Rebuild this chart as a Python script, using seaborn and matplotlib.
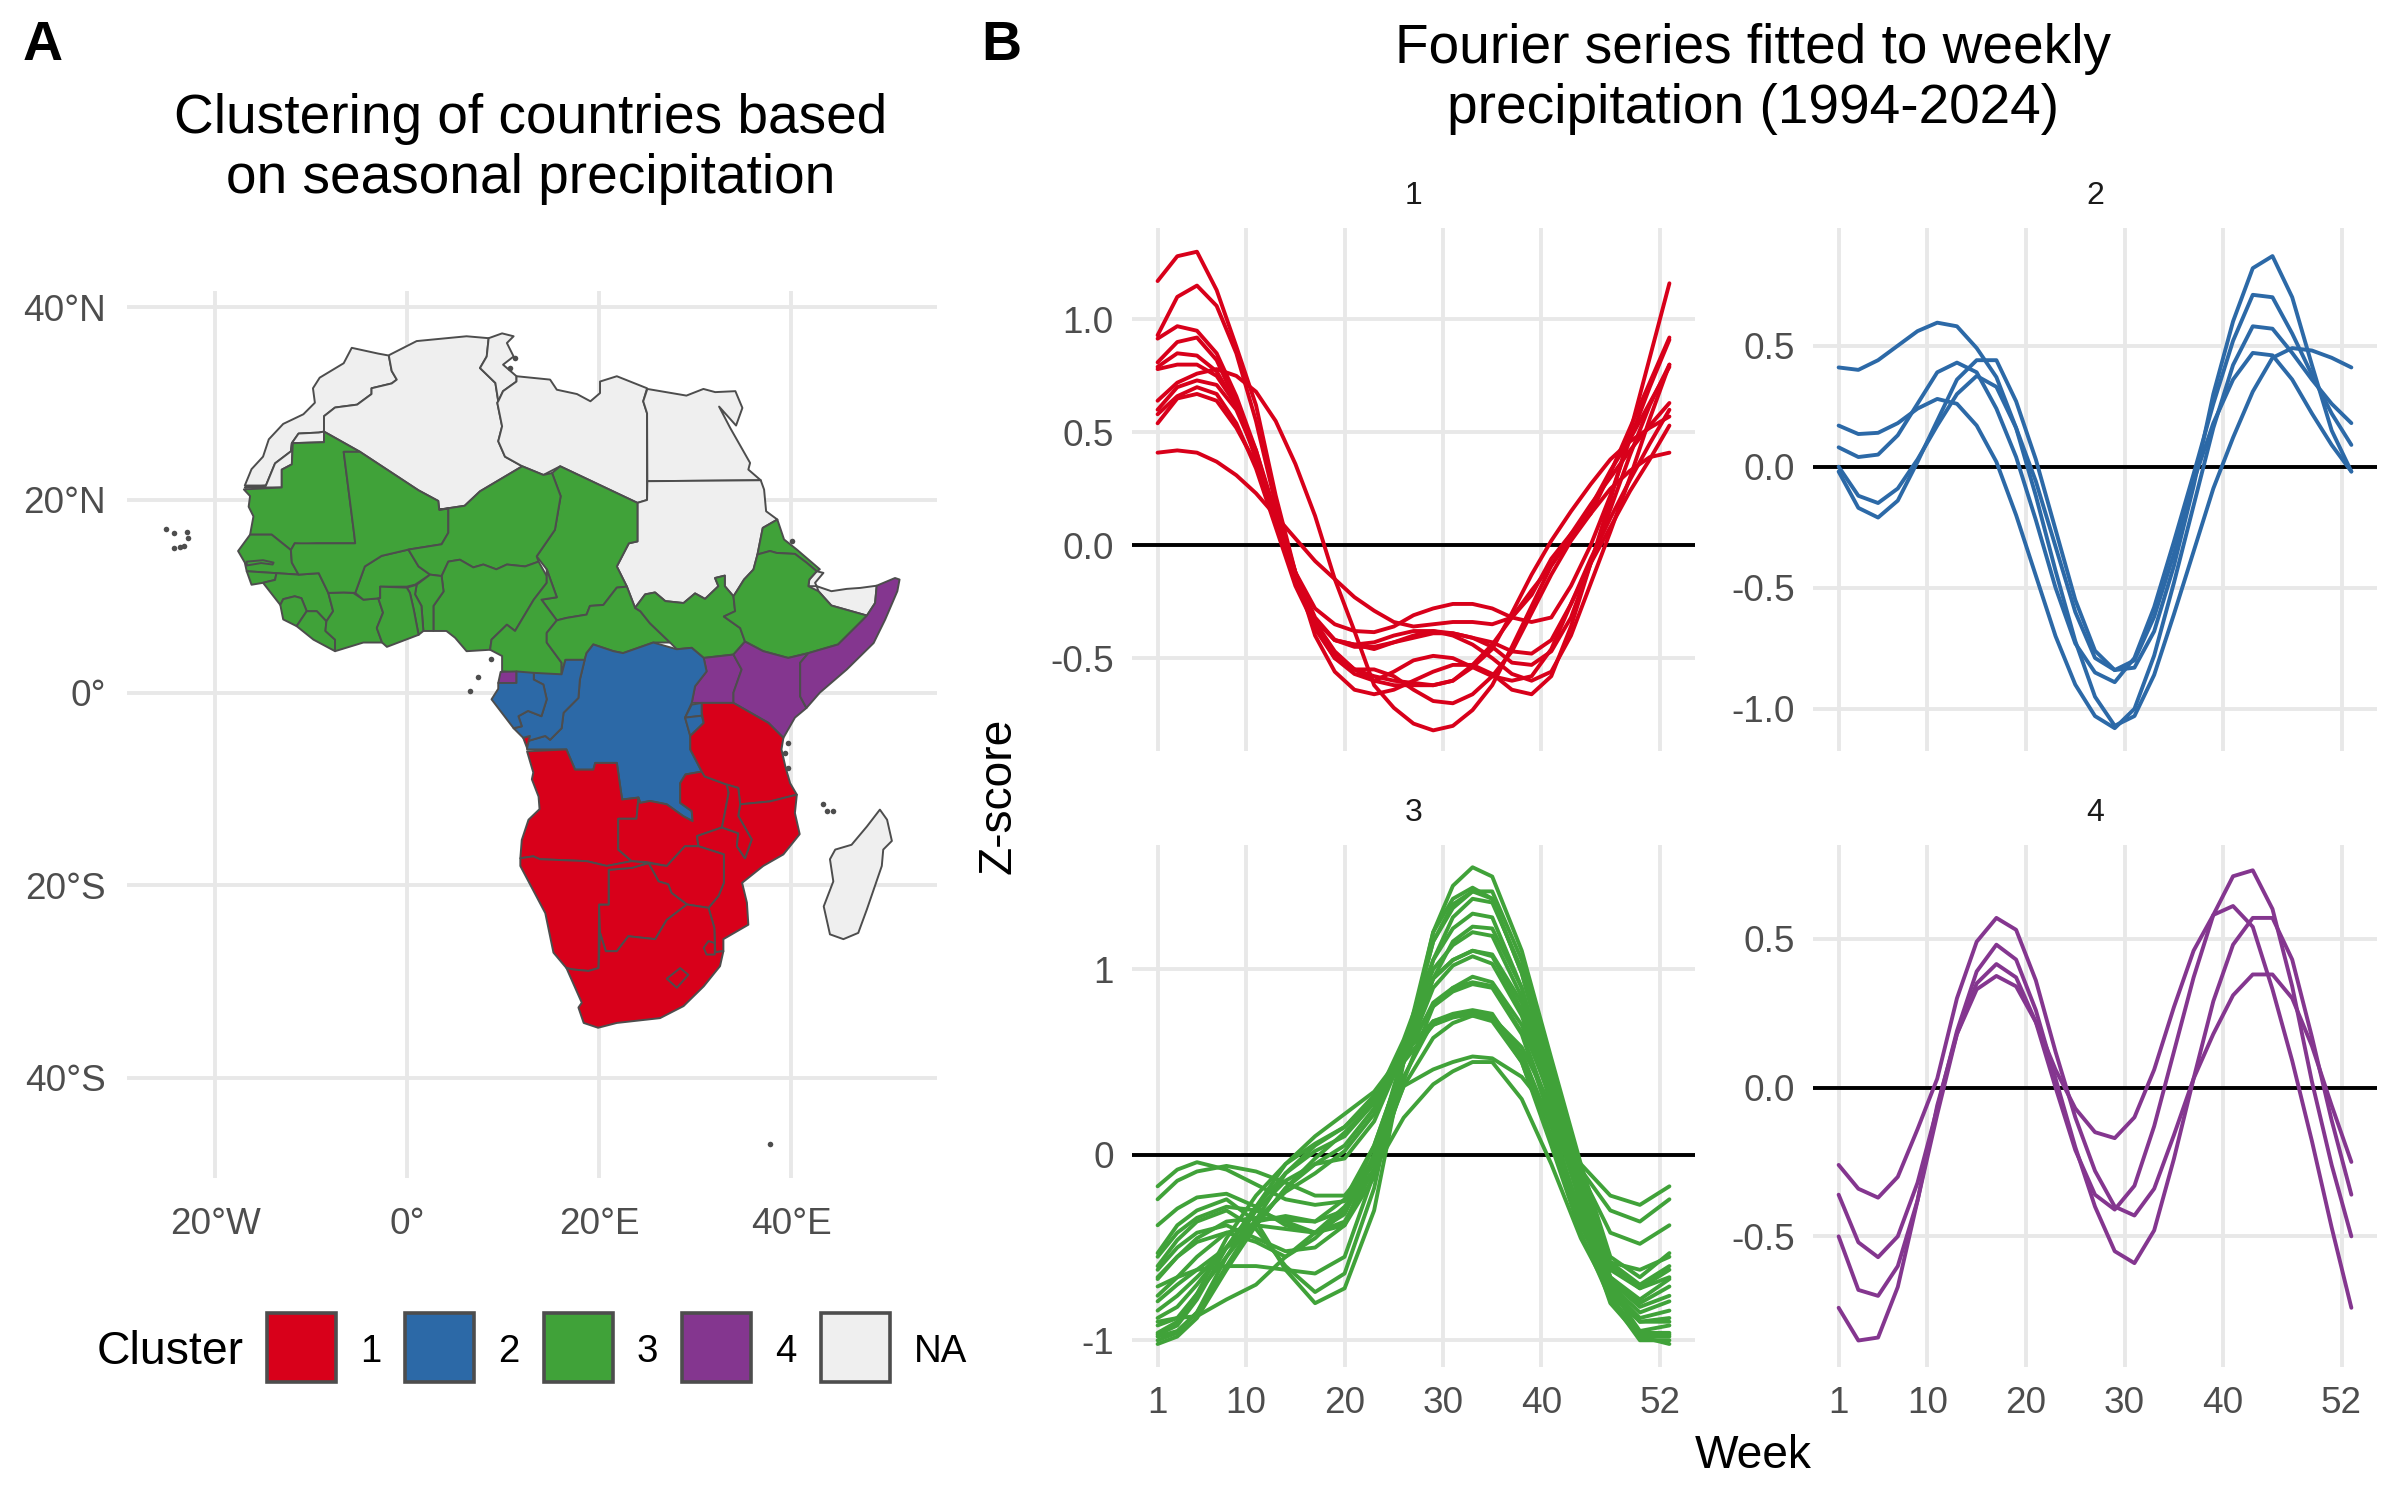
import matplotlib
matplotlib.use("Agg")
import matplotlib.pyplot as plt
from matplotlib.patches import Rectangle
import numpy as np
import pandas as pd
import seaborn as sns

RED, BLUE, GREEN, PURPLE, NA_COL = '#D8001A', '#2C69A7', '#40A239', '#84368F', '#EFEFEF'
BORDER, GRID, TICK = '#4D4D4D', '#E8E8E8', '#4D4D4D'

# ---------------- map outlines: (lon, lat) ----------------
morocco = [(-5.76,35.8),(-3,35.2),(-1.9,35),(-1.6,33.4),(-1.07,32.5),(-1.6,32.1),(-3.7,31.6),(-3.7,31),(-5.2,29.9),(-7.5,29.6),(-8.65,28.7),(-8.65,27.1),(-9.2,27),(-11.3,26.9),(-12,25.9),(-12.1,25.05),(-13.75,23.8),(-14.7,21.5),(-16.9,21.5),(-16.2,23.2),(-15,24.5),(-14.4,26.3),(-12.9,27.9),(-10.8,28.9),(-9.6,30.1),(-9.8,31.6),(-9.1,32.7),(-6.6,34.2)]
w_sahara = [(-14.7,21.5),(-13.75,23.8),(-12.1,25.05),(-12,25.9),(-11.3,26.9),(-9.2,27),(-8.65,27.1),(-8.65,26),(-11.9,25.9),(-12,23.7),(-13.05,23.15),(-13.05,21.3),(-16.9,21.3)]
algeria = [(-8.65,28.7),(-8.65,27.1),(-4.9,25),(1.2,21),(3.25,19.9),(3.35,19),(6,19.4),(7.6,20.9),(12,23.5),(10.2,24.5),(9.5,26.1),(9.9,27.65),(9.4,30.1),(9.5,30.25),(9.2,32.15),(7.6,33.7),(8.3,34.9),(8.5,36.8),(6.2,37),(1,36.5),(-1.76,35.1),(-1.9,35),(-1.6,33.4),(-1.07,32.5),(-1.6,32.1),(-3.7,31.6),(-3.7,31),(-5.2,29.9),(-7.5,29.6)]
tunisia = [(8.5,36.8),(9.9,37.3),(11.1,37),(10.4,36.3),(11.1,34.9),(10,34.05),(11.4,32.85),(11.4,32.3),(10,31.3),(9.5,30.25),(9.2,32.15),(7.6,33.7),(8.3,34.9)]
libya = [(11.4,32.85),(14.9,32.5),(15.6,31.45),(17.7,31),(19.1,30.25),(20.1,31.1),(20.1,32.3),(21.85,32.85),(25,31.6),(24.6,30.25),(25,29),(25,20),(24,19.7),(15.95,23.5),(14.2,22.6),(12,23.5),(10.2,24.5),(9.5,26.1),(9.9,27.65),(9.4,30.1),(9.5,30.25),(10,31.3),(11.4,32.3)]
egypt = [(25.03,31.53),(29.1,30.84),(30.87,31.53),(32.1,31.2),(34.2,31.3),(34.93,29.56),(34.27,27.73),(32.5,29.7),(33.65,27.5),(35.73,23.85),(35.55,23.16),(36.84,22.05),(25.03,21.95),(25,29),(24.6,30.25)]
sudan = [(25.03,21.95),(36.84,22.05),(37.19,21.08),(37.4,18.83),(38.57,17.97),(37.05,17.1),(36.5,14.34),(36.08,12.78),(35.1,11.74),(34.34,10.53),(34,10),(33.1,11.05),(33.1,12.15),(32.08,11.9),(32.43,11.05),(31.04,9.73),(30,10.3),(28.8,9.3),(26.9,9.5),(25.83,10.4),(24.8,10.2),(23.75,8.8),(22.9,11),(21.85,13.1),(23.1,15.5),(24,15.7),(24,19.7),(25,20)]
mauritania = [(-17,21.1),(-13.05,21.3),(-13.05,23.15),(-12,23.7),(-11.9,25.9),(-8.65,26),(-8.65,27.1),(-4.9,25),(-6.6,25),(-5.5,16.4),(-5.4,15.5),(-9.4,15.5),(-10.8,15.4),(-11.7,15.5),(-12.1,14.8),(-14.1,16.4),(-16.35,16.4),(-16,18.3),(-16.5,19.3),(-16.35,20.4)]
senegal = [(-16.35,16.4),(-14.1,16.4),(-12.1,14.8),(-12,13.5),(-11.3,12.25),(-13.6,12.4),(-16.7,12.6),(-16.9,13.5),(-17.6,14.7)]
gambia = [(-16.7,13.6),(-15,13.75),(-13.9,13.5),(-14,13.3),(-15.2,13.45),(-16.7,13.2)]
guinea_bissau = [(-16.7,12.6),(-13.6,12.4),(-13.75,11.7),(-15,11.4),(-16.2,11.2)]
guinea = [(-13.6,12.4),(-11.3,12.25),(-9.2,12.4),(-8.2,10.35),(-7.7,8.45),(-8.4,7.4),(-9.4,8.45),(-10.45,8.45),(-11,9.8),(-11.7,10),(-12.9,9.7),(-13.2,9.1),(-15,11.4),(-13.75,11.7)]
sierra_leone = [(-13.2,9.1),(-12.9,9.7),(-11.7,10),(-11,9.8),(-10.45,8.45),(-11.5,6.9),(-12.9,7.6)]
liberia = [(-10.45,8.45),(-9.4,8.45),(-8.4,7.4),(-8.5,6.4),(-7.5,5.5),(-7.5,4.3),(-9.75,5.5),(-11.5,6.9)]
ivory_coast = [(-8.2,10.35),(-6.6,10.4),(-5.6,10.35),(-4.55,9.65),(-3,9.8),(-2.5,8.3),(-3.15,6.7),(-2.6,5.2),(-4.55,5.2),(-7.5,4.3),(-7.5,5.5),(-8.5,6.4),(-8.4,7.4),(-7.7,8.45)]
burkina = [(-5.4,10.35),(-4.4,13.1),(-2.65,14.2),(0.14,14.85),(1.2,13.1),(2.4,12.25),(0.83,11.2),(-0.03,11),(-2.8,11),(-2.8,9.8),(-4.55,9.65)]
mali = [(-6.6,25),(-4.9,25),(1.2,21),(3.25,19.9),(3.35,19),(4.3,19.1),(4.3,16.6),(3.6,15.4),(0.14,14.85),(-2.65,14.2),(-4.4,13.1),(-5.4,10.35),(-6.6,10.4),(-8.2,10.35),(-9.2,12.4),(-11.3,12.25),(-12,13.5),(-12.1,14.8),(-11.7,15.5),(-9.4,15.5),(-5.4,15.5),(-5.5,16.4)]
chad = [(24,19.7),(24,15.7),(23.1,15.5),(21.85,13.1),(22.9,11),(21.85,10.9),(20.45,9.1),(19.05,9),(18.7,8.1),(16.6,7.75),(15.6,7.5),(14,9.65),(15.6,9.9),(14.55,12.8),(13.5,14.15),(15.4,16.9),(16,20.4),(15.1,22.8),(15.95,23.5)]
niger = [(3.35,19),(6,19.4),(7.6,20.9),(12,23.5),(14.2,22.6),(15.1,22.8),(16,20.4),(15.4,16.9),(13.5,14.15),(13.7,13.6),(12.3,13.1),(10.4,13.3),(9.3,12.8),(7.95,13.3),(6.9,13),(5.5,13.8),(4.3,13.6),(3.6,12.1),(2.4,12.25),(1.2,13.1),(0.14,14.85),(3.6,15.4),(4.3,16.6),(4.3,19.1)]
nigeria = [(3.6,12.1),(4.3,13.6),(5.5,13.8),(6.9,13),(7.95,13.3),(9.3,12.8),(10.4,13.3),(12.3,13.1),(13.7,13.6),(14.55,12.1),(14.55,11.4),(13.2,9.65),(11.25,6.4),(10.4,7.05),(8.8,5.5),(8.65,4.45),(6.2,4.3),(5,5.7),(4.1,6.4),(2.75,6.4),(2.75,9),(3.8,10.5)]
benin = [(2.4,12.25),(3.6,12.1),(3.8,10.5),(2.75,9),(2.75,6.4),(1.7,6.4),(1.5,9),(0.83,10.2),(1,11.2)]
togo = [(-0.03,10.9),(1,11.2),(0.83,10.2),(1.5,9),(1.7,6.4),(1.2,6),(0.7,8.6),(0.3,10.35)]
ghana = [(-2.8,11),(-0.03,10.9),(0.3,10.35),(0.7,8.6),(1.2,6),(-2.1,4.75),(-2.6,5.2),(-3.15,6.7),(-2.5,8.3),(-3,9.8),(-2.8,9.8)]
cameroon = [(14.55,12.8),(14.55,11.4),(13.2,9.65),(11.25,6.4),(10.4,7.05),(8.8,5.5),(8.65,4.45),(9.9,3.8),(9.9,2.2),(16.1,1.7),(16.1,3.1),(14.55,5.2),(14.55,6.2),(15.6,7.5),(14,9.65),(15.6,9.9)]
car = [(23.75,8.8),(24.3,8.45),(25.3,7.2),(27.4,5.2),(25.65,5.2),(22.5,4.1),(21.5,4.3),(19.4,5),(18.7,4.1),(18.5,3.4),(16.5,3.4),(16.1,1.9),(16.1,3.1),(14.55,5.2),(14.55,6.2),(15.6,7.5),(16.6,7.75),(18.7,8.1),(19.05,9),(20.45,9.1),(21.85,10.9),(22.9,11)]
south_sudan = [(23.75,8.8),(24.8,10.2),(25.83,10.4),(26.9,9.5),(28.8,9.3),(30,10.3),(31.04,9.73),(32.43,11.05),(32.08,11.9),(33.1,12.15),(33.1,11.05),(34,10),(34.17,8.45),(33,7.9),(34.7,6.7),(35.2,5.3),(34,3.95),(30.9,3.6),(29.65,4.65),(28.1,4.5),(27.4,5.2),(25.3,7.2),(24.3,8.45)]
eritrea = [(37.05,17.1),(38.57,17.97),(39.27,15.9),(40.6,14.85),(43,12.8),(42.67,12.6),(41.6,13.5),(40.4,14.4),(38.5,14.5),(37.8,14.7),(36.5,14.34)]
djibouti = [(42.67,12.6),(43.37,12.43),(42.5,11.4),(42.67,11.05),(41.8,11.05),(41.9,11.74)]
somaliland = [(42.67,11.05),(44.2,10.53),(45.8,10.77),(47.2,10.87),(48.92,11.1),(48.75,9.3),(47.9,8),(44.2,9.04),(42.85,10.53)]
somalia = [(48.92,11.1),(50.83,11.9),(51.3,11.74),(51.07,10.53),(49.8,7.58),(48.6,5.15),(45.8,2.4),(43,0),(41.6,-1.6),(40.95,-0.4),(40.95,3.1),(41.8,4.1),(44.9,5),(47.5,7.58),(47.9,8),(48.75,9.3)]
ethiopia = [(36.5,14.34),(37.8,14.7),(38.5,14.5),(40.4,14.4),(41.6,13.5),(42.67,12.6),(41.9,11.74),(41.8,11.05),(42.85,10.53),(44.2,9.04),(47.9,8),(47.5,7.58),(44.9,5),(41.8,4.1),(39.7,3.6),(37.1,4.3),(35.2,5.3),(34.7,6.7),(33,7.9),(34.17,8.45),(34,10),(34.34,10.53),(35.1,11.74),(36.08,12.78)]
drc = [(19.4,5),(21.5,4.3),(22.5,4.1),(25.65,5.2),(28.1,4.5),(29.65,4.65),(30.9,3.6),(31.2,2.2),(30,0.66),(29.65,-1.07),(28.96,-2.6),(29.5,-4.5),(29.5,-5.9),(30.7,-8.2),(29,-8.5),(28.45,-9.4),(28.45,-11.45),(29.65,-12.3),(29.75,-13.35),(28.8,-12.85),(27.05,-11.6),(25.3,-11.25),(24.3,-11.45),(24.1,-10.9),(22.4,-11.1),(21.85,-7.3),(19.6,-7.3),(19.4,-8),(17.5,-8),(16.6,-5.9),(12.5,-5.9),(12.5,-5.05),(14.4,-4.5),(14.9,-4.9),(16.1,-3.7),(16.3,-2.1),(17.85,-0.55),(18,1.35),(18.5,3.4),(18.7,4.1)]
congo = [(16.5,3.4),(18.5,3.4),(18,1.35),(17.85,-0.55),(16.3,-2.1),(16.1,-3.7),(14.9,-4.9),(14.4,-4.5),(12.5,-5.05),(12.1,-4.7),(11.1,-3.7),(11.95,-3.5),(11.6,-2.45),(12.6,-1.9),(14,-2.45),(14.55,-0.7),(14.2,0.83),(13.2,1.35),(13.2,2.05),(16.1,1.9)]
gabon = [(9.5,1),(11.4,1),(11.4,2.2),(13.2,2.05),(13.2,1.35),(14.2,0.83),(14.55,-0.7),(14,-2.45),(12.6,-1.9),(11.6,-2.45),(11.95,-3.5),(11.1,-3.7),(8.8,-0.7),(9.5,0.4)]
eq_guinea = [(9.75,2.15),(9.5,1),(11.4,1),(11.4,2.2)]
cabinda = [(12.1,-4.7),(12.8,-4.5),(12.5,-5.75)]
angola = [(12.5,-6.1),(16.6,-5.9),(17.5,-8),(19.4,-8),(19.6,-7.3),(21.85,-7.3),(22.4,-11.1),(24.1,-10.9),(23.9,-13.1),(22,-13.1),(22,-16.3),(23.4,-17.5),(20.8,-18),(18.7,-17.5),(13.85,-17.3),(13.15,-17),(11.8,-17.2),(11.95,-15.3),(12.65,-13.2),(13.8,-12.1),(13.7,-10.8),(13,-9),(13.15,-8.3)]
zambia = [(24.1,-10.9),(24.3,-11.45),(25.3,-11.25),(27.05,-11.6),(28.8,-12.85),(29.75,-13.35),(29.65,-12.3),(28.45,-11.45),(28.45,-9.4),(29,-8.5),(30.7,-8.2),(31,-8.7),(33.3,-9.55),(33.5,-10.4),(33.1,-12.5),(32.8,-14),(30.2,-14.9),(30.35,-15.95),(28.95,-15.95),(27.05,-18),(25,-17.6),(23.4,-17.5),(22,-16.3),(22,-13.1),(23.9,-13.1)]
tanzania = [(30.7,-1.07),(34,-1.07),(37.65,-3.15),(39.2,-4.7),(39,-5.9),(39.4,-7.65),(39.9,-9.4),(40.6,-10.6),(37.8,-11.3),(34.7,-11.6),(34.5,-9.9),(33.3,-9.55),(31,-8.7),(30.7,-8.2),(29.5,-5.9),(29.5,-4.5),(30.9,-3.15),(30.7,-2.1)]
rwanda = [(29.65,-1.25),(30.7,-1.07),(30.7,-2.4),(28.96,-2.6)]
burundi = [(28.96,-2.6),(30.7,-2.4),(30.9,-3.15),(29.5,-4.5)]
uganda = [(30.9,3.6),(34,3.95),(34.85,2.4),(34,0),(34,-1.07),(29.65,-1.07),(30,0.66),(31.2,2.2)]
kenya = [(34,3.95),(35.2,5.3),(37.1,4.3),(39.7,3.6),(41.8,4.1),(40.95,3.1),(40.95,-0.4),(41.6,-1.6),(40.4,-2.6),(39.2,-4.7),(37.65,-3.15),(34,-1.07),(34,0),(34.85,2.4)]
mozambique = [(40.6,-10.6),(40.4,-12.5),(40.9,-14.7),(39.2,-16.8),(37.1,-18),(34.9,-19.75),(35.4,-21.8),(35.55,-24.1),(32.95,-25.6),(32.95,-26.85),(32.1,-26.95),(32,-24.4),(31.4,-22.35),(32.45,-21.1),(33,-19.75),(33,-16.8),(30.35,-15.95),(30.2,-14.9),(32.8,-14),(34.5,-14.6),(34.35,-15.95),(35.2,-17.2),(35.9,-15.25),(34.5,-12.8),(34.7,-11.6),(37.8,-11.3)]
malawi = [(33.3,-9.55),(34.5,-9.9),(34.7,-11.6),(34.5,-12.8),(35.9,-15.25),(35.2,-17.2),(34.35,-15.95),(34.5,-14.6),(32.8,-14),(33.1,-12.5),(33.5,-10.4)]
zimbabwe = [(30.35,-15.95),(33,-16.8),(33,-19.75),(32.45,-21.1),(31.4,-22.35),(29.15,-22),(27.55,-20.8),(27.2,-19.9),(26.2,-19.6),(25.15,-17.7),(27.05,-18),(28.95,-15.95)]
botswana = [(21,-18.4),(23.4,-18.2),(25.15,-17.7),(26.2,-19.6),(27.2,-19.9),(27.55,-20.8),(29.15,-22),(27.05,-23.6),(25.85,-25.6),(23.05,-25.3),(21.85,-26.85),(20.7,-26.85),(20.1,-24.95),(20,-22),(21,-22)]
namibia = [(11.8,-17.2),(13.15,-17),(13.85,-17.3),(18.7,-17.5),(20.8,-18),(23.4,-17.5),(25.15,-17.7),(23.4,-18.2),(21,-18.4),(21,-22),(20,-22),(19.95,-28.6),(18.9,-28.9),(17.3,-28.75),(16.6,-28.6),(15.25,-27),(14.4,-22.9),(11.8,-18)]
south_africa = [(16.6,-28.6),(17.3,-28.75),(18.9,-28.9),(19.95,-28.6),(20.1,-24.95),(20.7,-26.85),(21.85,-26.85),(23.05,-25.3),(25.85,-25.6),(27.05,-23.6),(29.15,-22),(31.4,-22.35),(32,-24.4),(32.1,-26.95),(32.95,-26.85),(32.6,-28.4),(30.9,-30.5),(28.8,-32.55),(26.35,-33.8),(21.85,-34.3),(19.9,-34.8),(18.4,-34.3),(17.85,-32.7),(18.2,-32.2)]
eswatini = [(30.9,-26.5),(31.4,-25.8),(32.05,-26),(32.05,-27.2),(31.2,-27.2)]
lesotho = [(27.05,-29.7),(28.45,-28.6),(29.3,-29.3),(28.1,-30.65)]
madagascar = [(49.25,-12.15),(50,-13.2),(50.5,-15.4),(49.6,-16.3),(49.45,-18),(47.9,-22.5),(47,-24.95),(45.45,-25.6),(44.05,-25.1),(43.4,-22.2),(44.4,-19.6),(44.05,-17.3),(44.6,-16.3),(46.3,-15.8),(47.9,-13.9)]

cluster_1_countries = [angola, cabinda, zambia, tanzania, mozambique, malawi, zimbabwe, botswana, namibia, south_africa, eswatini, lesotho]
cluster_2_countries = [drc, congo, gabon, rwanda, burundi]
cluster_3_countries = [mauritania, senegal, gambia, guinea_bissau, guinea, sierra_leone, liberia, ivory_coast, burkina, mali, chad, niger, nigeria, benin, togo, ghana, cameroon, car, south_sudan, eritrea, ethiopia]
cluster_4_countries = [eq_guinea, uganda, kenya, somalia]
cluster_na_countries = [morocco, w_sahara, algeria, tunisia, libya, egypt, sudan, djibouti, somaliland, madagascar]

island_lon = [-25.1,-24.3,-22.9,-22.8,-24.3,-23.6,-23.2,8.7,7.4,6.6,39.7,39.4,39.7,43.3,43.7,44.4,37.8,10.7,11.25,40.07]
island_lat = [17.0,16.6,16.7,16.1,15.0,15.1,15.2,3.5,1.6,0.2,-5.2,-6.3,-7.8,-11.6,-12.3,-12.25,-46.9,33.7,34.75,15.7]

map_lon_ticks = [-20, 0, 20, 40]
map_lon_labels = ['20°W', '0°', '20°E', '40°E']
map_lat_ticks = [40, 20, 0, -20, -40]
map_lat_labels = ['40°N', '20°N', '0°', '20°S', '40°S']

# ---------------- curves: z-score values read at the listed weeks ----------------
weeks = [1,3,5,7,9,11,13,15,17,19,21,23,25,27,29,31,33,35,37,39,41,43,45,47,49,51,53]
weeks_c3 = [1,3,5,8,11,14,17,20,23,26,29,31,33,35,38,41,44,47,50,53]

cluster1 = [
 [1.17,1.28,1.30,1.13,.88,.62,.22,-.12,-.40,-.56,-.64,-.66,-.64,-.60,-.56,-.53,-.53,-.57,-.64,-.66,-.58,-.36,-.08,.20,.50,.83,1.16],
 [.93,1.10,1.15,1.06,.85,.55,.18,-.12,-.37,-.50,-.55,-.55,-.58,-.64,-.69,-.70,-.66,-.58,-.47,-.30,-.13,.02,.14,.32,.52,.72,.92],
 [.915,.97,.95,.85,.66,.42,.12,-.12,-.28,-.35,-.38,-.385,-.36,-.31,-.28,-.26,-.26,-.28,-.32,-.34,-.32,-.18,.0,.22,.47,.70,.91],
 [.81,.90,.92,.82,.63,.38,.10,-.16,-.33,-.42,-.44,-.43,-.40,-.38,-.38,-.40,-.44,-.50,-.57,-.60,-.56,-.40,-.17,.06,.30,.56,.80],
 [.79,.85,.84,.77,.62,.40,.12,-.14,-.33,-.42,-.44,-.46,-.43,-.40,-.38,-.39,-.41,-.45,-.52,-.53,-.47,-.32,-.08,.16,.40,.62,.80],
 [.78,.80,.80,.75,.62,.42,.14,-.14,-.36,-.50,-.57,-.60,-.62,-.62,-.62,-.60,-.53,-.44,-.32,-.20,-.09,.03,.17,.33,.47,.63,.79],
 [.64,.72,.76,.78,.75,.68,.55,.36,.13,-.15,-.38,-.62,-.72,-.79,-.82,-.80,-.73,-.62,-.45,-.27,-.09,.05,.18,.30,.42,.53,.63],
 [.60,.70,.73,.71,.60,.40,.14,-.12,-.32,-.42,-.45,-.45,-.43,-.41,-.39,-.39,-.41,-.43,-.47,-.48,-.42,-.26,-.06,.12,.29,.45,.60],
 [.58,.66,.70,.67,.54,.34,.08,-.18,-.36,-.48,-.55,-.58,-.60,-.61,-.62,-.60,-.54,-.46,-.30,-.13,.02,.15,.27,.38,.46,.52,.57],
 [.54,.65,.67,.64,.52,.36,.10,-.14,-.34,-.47,-.55,-.60,-.56,-.51,-.49,-.50,-.54,-.58,-.60,-.58,-.46,-.26,-.08,.08,.24,.38,.53],
 [.41,.42,.41,.37,.31,.23,.13,.03,-.07,-.15,-.23,-.29,-.34,-.36,-.35,-.34,-.34,-.35,-.32,-.22,-.06,.05,.14,.25,.33,.39,.41],
]
cluster2 = [
 [.41,.40,.44,.50,.56,.595,.58,.49,.37,.16,-.12,-.43,-.72,-.95,-1.07,-1.03,-.86,-.61,-.35,-.09,.12,.31,.45,.49,.48,.45,.41],
 [.17,.135,.14,.18,.24,.28,.26,.17,.02,-.20,-.45,-.70,-.90,-1.03,-1.08,-1.00,-.78,-.48,-.16,.16,.42,.58,.57,.47,.36,.26,.18],
 [.08,.04,.05,.13,.26,.39,.43,.39,.24,.04,-.22,-.50,-.73,-.85,-.89,-.79,-.58,-.31,-.03,.26,.52,.71,.70,.55,.38,.22,.09],
 [0,-.12,-.15,-.09,.03,.17,.30,.375,.33,.16,-.06,-.33,-.60,-.79,-.84,-.80,-.62,-.36,-.06,.18,.36,.47,.46,.36,.22,.09,-.02],
 [-.02,-.17,-.21,-.14,.02,.19,.36,.44,.44,.27,.03,-.26,-.55,-.76,-.84,-.83,-.68,-.41,-.08,.30,.60,.82,.87,.70,.42,.15,-.02],
]
cluster3 = [
 [-.17,-.08,-.04,-.08,-.16,-.24,-.27,-.25,-.05,.37,.46,.50,.53,.52,.42,.22,-.05,-.22,-.27,-.17],
 [-.24,-.14,-.09,-.06,-.09,-.15,-.22,-.22,-.03,.37,.63,.71,.75,.74,.58,.26,-.08,-.30,-.36,-.24],
 [-.38,-.29,-.23,-.21,-.28,-.38,-.42,-.38,-.12,.40,.80,.90,.96,.93,.70,.30,-.10,-.42,-.48,-.38],
 [-.53,-.38,-.30,-.24,-.36,-.62,-.80,-.72,-.30,.50,1.20,1.45,1.55,1.50,1.10,.52,-.05,-.55,-.66,-.53],
 [-.60,-.46,-.36,-.30,-.40,-.60,-.74,-.64,-.18,.55,1.15,1.33,1.42,1.42,1.05,.48,-.10,-.58,-.70,-.60],
 [-.62,-.50,-.42,-.38,-.45,-.52,-.50,-.38,0,.52,.95,1.05,1.10,1.08,.82,.35,-.15,-.60,-.72,-.62],
 [-.67,-.55,-.47,-.42,-.47,-.55,-.45,-.30,.05,.5,.9,1.02,1.07,1.03,.75,.28,-.22,-.66,-.78,-.67],
 [-.71,-.66,-.62,-.60,-.60,-.62,-.64,-.55,-.10,.55,1.2,1.38,1.44,1.38,.98,.40,-.16,-.66,-.80,-.71],
 [-.79,-.70,-.62,-.50,-.38,-.18,-.02,.12,.28,.50,.70,.74,.76,.75,.55,.15,-.32,-.70,-.85,-.79],
 [-.84,-.76,-.66,-.50,-.28,-.05,.10,.22,.34,.55,.72,.75,.75,.72,.50,.08,-.38,-.72,-.88,-.84],
 [-.90,-.88,-.87,-.78,-.70,-.55,-.42,-.28,-.08,.20,.38,.45,.50,.50,.30,-.05,-.45,-.75,-.90,-.90],
 [-.92,-.88,-.75,-.55,-.35,-.20,-.10,.02,.22,.55,.95,1.05,1.10,1.07,.78,.28,-.25,-.72,-.95,-.92],
 [-.98,-.95,-.85,-.60,-.35,-.10,.05,.15,.30,.55,.80,.88,.92,.90,.65,.18,-.34,-.80,-.98,-.98],
 [-1.02,-.98,-.88,-.62,-.38,-.18,-.05,.05,.25,.60,1.0,1.13,1.20,1.18,.85,.30,-.28,-.78,-.98,-1.02],
 [-.97,-.92,-.78,-.50,-.28,-.10,.02,.10,.28,.62,1.05,1.22,1.30,1.28,.90,.34,-.26,-.76,-.97,-.97],
 [-1.0,-.96,-.85,-.55,-.30,-.14,-.05,-.02,.18,.55,.95,1.15,1.23,1.22,.90,.36,-.22,-.78,-1.0,-1.0],
 [-.88,-.82,-.70,-.50,-.36,-.33,-.36,-.30,-.02,.50,1.05,1.28,1.38,1.36,1.0,.42,-.15,-.70,-.9,-.88],
 [-.76,-.66,-.55,-.42,-.38,-.40,-.42,-.32,0,.55,1.15,1.35,1.42,1.38,.98,.40,-.18,-.68,-.82,-.76],
 [-.66,-.55,-.45,-.36,-.34,-.35,-.36,-.24,.05,.5,.82,.90,.93,.91,.66,.22,-.26,-.62,-.72,-.66],
 [-.55,-.42,-.34,-.28,-.30,-.36,-.42,-.36,-.08,.42,.72,.76,.78,.76,.52,.10,-.35,-.58,-.62,-.55],
 [-.96,-.90,-.75,-.45,-.22,-.05,.06,.15,.32,.55,.70,.75,.77,.74,.50,.05,-.42,-.78,-.96,-.96],
]
cluster4 = [
 [-.26,-.34,-.37,-.30,-.14,.03,.30,.49,.57,.53,.36,.12,-.10,-.28,-.40,-.43,-.34,-.16,.03,.18,.31,.38,.38,.30,.14,-.06,-.25],
 [-.36,-.52,-.57,-.50,-.32,-.07,.19,.39,.48,.43,.26,.03,-.20,-.40,-.55,-.59,-.48,-.24,.03,.29,.48,.57,.57,.43,.17,-.11,-.36],
 [-.50,-.68,-.70,-.60,-.38,-.09,.18,.35,.415,.37,.22,0,-.21,-.36,-.41,-.33,-.13,.12,.37,.58,.71,.73,.60,.34,.02,-.26,-.50],
 [-.74,-.85,-.84,-.67,-.38,-.06,.18,.33,.375,.34,.22,.06,-.07,-.15,-.17,-.10,.06,.27,.46,.58,.61,.54,.33,.09,-.18,-.47,-.74],
]

def long_table(curves, wk):
    rows = []
    for i, c in enumerate(curves):
        rows += [{'curve': i, 'week': w, 'z': v} for w, v in zip(wk, c)]
    return pd.DataFrame(rows)

sns.set_theme(style='white')
plt.rcParams['font.family'] = ['Liberation Sans', 'DejaVu Sans']
W, H = 2400, 1500
fig = plt.figure(figsize=(12, 7.5), dpi=200, facecolor='white')

def add_axes_px(x0, x1, y0, y1):
    return fig.add_axes([x0 / W, 1 - y1 / H, (x1 - x0) / W, (y1 - y0) / H])

def style(ax):
    sns.despine(ax=ax, left=True, bottom=True, top=True, right=True)
    ax.grid(True, color=GRID, linewidth=1.4)
    ax.set_axisbelow(True)

# ---------------- map ----------------
ax_map = add_axes_px(127, 937, 291, 1178)
style(ax_map)
for group, col in [(cluster_na_countries, NA_COL), (cluster_3_countries, GREEN), (cluster_4_countries, PURPLE),
                   (cluster_2_countries, BLUE), (cluster_1_countries, RED)]:
    for poly in group:
        xs, ys = zip(*poly)
        ax_map.fill(xs, ys, facecolor=col, edgecolor=BORDER, linewidth=0.7, joinstyle='round', zorder=3)
sns.scatterplot(x=island_lon, y=island_lat, ax=ax_map, s=4, color=BORDER, linewidth=0, zorder=4, legend=False)
ax_map.set_xlim(-29.17, 55.2)
ax_map.set_ylim(-50.4, 41.7)
ax_map.set_xticks(map_lon_ticks, map_lon_labels)
ax_map.set_yticks(map_lat_ticks, map_lat_labels)
ax_map.tick_params(axis='x', length=0, pad=10.6, labelsize=13.3, labelcolor=TICK)
ax_map.tick_params(axis='y', length=0, pad=7.5, labelsize=13.3, labelcolor=TICK)

# ---------------- facets ----------------
panels = [
    (cluster1, weeks, RED, (1132, 1695, 228, 750.7), (-0.91, 1.405), [1.0, 0.5, 0.0, -0.5], ['1.0', '0.5', '0.0', '-0.5'], '1', False),
    (cluster2, weeks, BLUE, (1813, 2377, 228, 750.7), (-1.173, 0.986), [0.5, 0.0, -0.5, -1.0], ['0.5', '0.0', '-0.5', '-1.0'], '2', False),
    (cluster3, weeks_c3, GREEN, (1132, 1695, 845, 1367), (-1.144, 1.67), [1, 0, -1], ['1', '0', '-1'], '3', True),
    (cluster4, weeks, PURPLE, (1813, 2377, 845, 1367), (-0.939, 0.815), [0.5, 0.0, -0.5], ['0.5', '0.0', '-0.5'], '4', True),
]
x_ticks = [1, 10, 20, 30, 40, 52]
for curves, wk, col, box, ylim, yt, ytl, strip, show_x in panels:
    ax = add_axes_px(box[0], box[1], box[2], box[3])
    style(ax)
    ax.axhline(0, color='black', linewidth=1.4, zorder=1.5)
    sns.lineplot(data=long_table(curves, wk), x='week', y='z', units='curve', estimator=None,
                 color=col, linewidth=1.4, ax=ax, legend=False, zorder=2)
    ax.set_xlim(-1.6, 55.6)
    ax.set_ylim(*ylim)
    ax.set_xticks(x_ticks, [str(t) for t in x_ticks] if show_x else [''] * len(x_ticks))
    ax.set_yticks(yt, ytl)
    ax.set_xlabel('')
    ax.set_ylabel('')
    ax.tick_params(axis='x', length=0, pad=7, labelsize=13.3, labelcolor=TICK)
    ax.tick_params(axis='y', length=0, pad=6.5, labelsize=13.3, labelcolor=TICK)
    ax.text((box[0] + box[1]) / 2 / W, 1 - (box[2] - 32) / H, strip, transform=fig.transFigure,
            ha='center', va='center', fontsize=11.5, color='#1A1A1A')

# ---------------- text ----------------
def txt(x, y, s, **kw):
    fig.text(x / W, 1 - y / H, s, ha=kw.pop('ha', 'center'), va='center', **kw)

txt(43, 46, 'A', fontsize=20, fontweight='bold', color='black')
txt(1001, 46, 'B', fontsize=20, fontweight='bold', color='black')
txt(531, 149, 'Clustering of countries based\non seasonal precipitation', fontsize=19.8, color='black', linespacing=1.19)
txt(1753, 79, 'Fourier series fitted to weekly\nprecipitation (1994-2024)', fontsize=19.8, color='black', linespacing=1.19)
txt(1753, 1456, 'Week', fontsize=16.6, color='black')
txt(999, 796, 'Z-score', fontsize=16.6, color='black', rotation=90)

# ---------------- legend ----------------
legend_labels = ['1', '2', '3', '4', 'NA']
legend_colors = [RED, BLUE, GREEN, PURPLE, NA_COL]
legend_x = [267, 405, 544, 682, 821]
txt(97, 1352, 'Cluster', fontsize=16.7, color='black', ha='left')
for x, c, lab in zip(legend_x, legend_colors, legend_labels):
    fig.patches.append(Rectangle((x / W, 1 - 1382 / H), 69 / W, 69 / H, transform=fig.transFigure,
                                 facecolor=c, edgecolor=BORDER, linewidth=1.3, figure=fig))
    txt(x + 93, 1352, lab, fontsize=13.8, color='black', ha='left')

fig.savefig('out.png', dpi=200, facecolor='white')
